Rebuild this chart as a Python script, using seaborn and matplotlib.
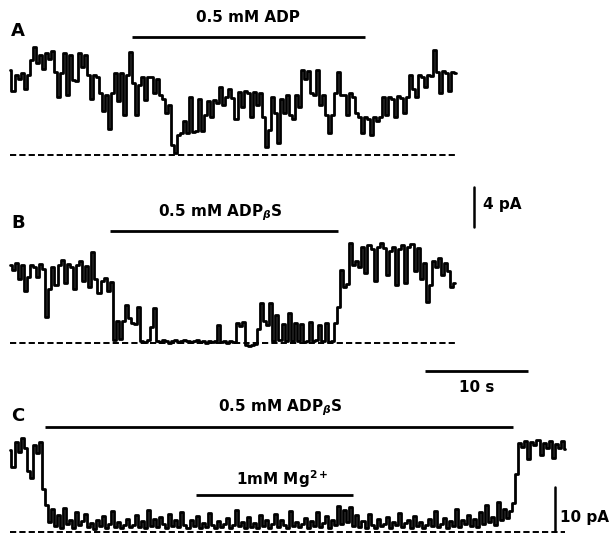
import numpy as np
import pandas as pd
import matplotlib
matplotlib.use("Agg")
import matplotlib.pyplot as plt
import seaborn as sns

# ---------------- data ----------------
# Panel A: single-channel current trace (pA), 0.5 mM ADP
trace_a_duration_s = 43.3
trace_a_pA = [
    8.5, 6.4,
    8.0, 7.6, 8.2, 6.6, 8.0,
    9.5, 10.8, 9.2,
    10.0, 8.6, 10.2, 9.6, 10.4,
    8.3, 5.8, 8.2,
    10.2, 6.0, 10.0,
    7.5, 7.4,
    10.2, 8.8, 10.0,
    8.0, 5.6, 8.0, 7.8,
    6.2, 4.4, 6.0, 2.6, 6.2,
    8.2, 5.4, 8.2, 4.0, 8.0,
    10.3,
    7.2, 4.0, 7.0,
    7.8, 5.5, 7.8,
    7.8, 6.2, 7.6, 6.0,
    5.6, 4.2, 5.0,
    1.0, 0.2,
    2.0, 2.2,
    3.4, 2.2, 5.8,
    2.3, 2.4, 5.6,
    2.4, 4.0,
    5.4, 3.8, 5.5,
    5.2, 6.8, 5.0,
    5.8, 6.6, 5.7, 3.6,
    6.3, 4.8, 6.4, 6.2, 3.8, 6.3, 5.0, 6.2,
    3.8, 0.8, 2.5,
    5.8, 4.2, 1.2, 5.6,
    4.2, 6.0, 4.0,
    3.6, 6.0, 4.8,
    8.5, 7.6, 8.4,
    6.2, 6.0, 8.5,
    5.0, 6.0,
    4.0, 2.2, 4.0,
    6.2, 8.3, 6.0,
    6.0, 4.0, 6.2, 5.8, 4.2,
    3.8, 2.2, 3.8, 3.6, 2.0, 3.8, 3.4, 3.8,
    5.8, 4.0, 5.8, 5.6, 3.8, 5.9, 5.7, 4.2, 5.8,
    8.0, 6.6, 5.8,
    8.0, 7.8, 6.8, 8.0, 7.9,
    10.5,
    8.3, 6.2, 8.4, 8.2, 6.4, 8.3, 8.2,
]

# Panel B: 0.5 mM ADPbetaS
trace_b_duration_s = 43.2
trace_b_pA = [
    7.8, 7.3, 8.0, 6.4, 7.8,
    5.2, 6.6,
    7.8, 7.6, 6.6, 7.9, 7.4,
    2.6,
    5.4,
    7.6, 5.8, 7.8, 8.3, 6.0, 7.9, 7.6, 5.4, 7.8, 8.2, 6.2, 7.7, 5.6,
    9.1,
    6.4, 5.0, 6.2, 6.5, 5.2, 6.1,
    0.3,
    2.2, 0.4,
    2.2, 3.8, 2.5,
    2.0, 1.9, 3.6,
    0.2, 0.1, 0.3,
    1.6, 3.5,
    0.2, 0.1, 0.3, 0.2, 0.0, 0.2, 0.3, 0.1, 0.2, 0.3,
    0.2, 0.1, 0.2, 0.3, 0.1, 0.2, 0.0, 0.2, 0.1, 0.2,
    1.8,
    0.1, 0.2, 0.0, 0.2, 0.1,
    2.0, 1.7, 2.1,
    -0.2, -0.3, -0.2, -0.1,
    1.4, 4.0,
    2.2, 1.8, 4.0,
    0.2, 2.8, 0.3, 1.9, 0.2, 3.0, 0.2, 2.0,
    0.2, 1.9, 0.1, 0.2, 2.1, 0.2, 0.3, 1.8, 0.2, 2.0, 0.1, 0.2, 2.0,
    3.6, 7.3,
    5.6, 5.9,
    10.0,
    7.8, 8.2, 7.6,
    9.6, 7.0, 9.8, 9.4, 6.2, 9.6, 10.0,
    9.5, 6.8, 9.2, 9.6, 5.8, 9.4,
    9.8, 6.0, 9.6, 9.9, 7.2, 9.5, 6.4,
    8.0, 4.1,
    5.8,
    8.2, 7.6, 8.5, 6.8, 8.0,
    7.2, 5.6, 6.0,
]

# Panel C: 0.5 mM ADPbetaS with 1 mM Mg2+
trace_c_duration_s = 53.9
trace_c_pA = [
    17.0, 13.5, 18.8, 16.6,
    19.6, 17.6,
    12.8, 11.2,
    18.2, 16.4, 18.8,
    9.0,
    5.6,
    2.0, 4.8, 1.2, 3.6, 0.8, 5.0, 1.6, 2.6, 0.9, 4.2, 1.4, 2.2, 3.8, 1.0,
    1.8, 0.7, 2.4, 1.2, 3.4, 0.9, 1.6, 4.4, 1.1, 2.0, 0.8, 1.5, 2.8, 1.0,
    1.4, 3.6, 1.0, 2.2, 0.8, 4.6, 1.3, 2.8, 1.0, 3.2, 1.6, 0.9, 3.8, 1.2,
    2.4, 1.0, 4.2, 1.5, 0.8, 2.6, 1.2, 3.4, 0.9, 1.8, 1.1, 4.0, 1.4, 0.8,
    2.2, 1.0, 1.6, 3.0, 0.9, 1.4, 4.6, 1.2, 2.0, 0.8, 3.2, 1.0, 1.8, 0.9,
    3.6, 1.2, 2.4, 0.8, 1.6, 3.8, 1.0, 2.6, 1.4, 0.9, 4.4, 1.2, 2.0, 1.0,
    1.6, 3.0, 0.9, 2.2, 1.2, 4.2, 1.0, 1.8, 3.4, 0.8, 2.6, 1.4, 5.4, 1.6,
    4.6, 2.0, 5.2, 1.2, 3.6, 1.0, 2.2, 0.9, 3.8, 1.4, 0.8, 2.8, 1.2, 1.6,
    3.2, 0.9, 2.0, 1.4, 4.0, 1.0, 1.8, 2.6, 0.8, 3.4, 1.2, 2.0, 0.9, 1.5,
    2.8, 1.2, 4.4, 1.0, 1.6, 3.0, 0.9, 2.2, 1.3, 4.8, 1.0, 2.4, 1.6, 3.6,
    1.2, 2.8, 1.0, 4.2, 1.6, 5.6, 2.0, 3.2, 1.4, 6.2, 2.4, 4.8, 3.0, 4.4,
    6.0, 12.0,
    18.6, 17.8, 19.0, 15.2, 18.8, 18.2, 19.2, 16.0,
    18.6, 17.4, 19.0, 15.4, 18.4, 17.6, 19.0, 17.2,
]

# Drug application periods (s) and labels
app_labels = ["0.5 mM ADP", "0.5 mM ADP$_{\\beta}$S", "0.5 mM ADP$_{\\beta}$S",
              "1mM Mg$^{\\mathbf{2+}}$"]
app_start_s = [11.8, 9.7, 3.4, 18.1]
app_end_s = [34.5, 31.8, 48.8, 33.3]

# Scale bars
scale_current_ab_pA = 4
scale_current_c_pA = 10
scale_time_s = 10

# ---------------- figure ----------------
sns.set_theme(style="white")
plt.rcParams["font.family"] = ["DejaVu Sans"]
plt.rcParams["font.weight"] = "bold"
plt.rcParams["text.color"] = "black"

W, H = 615, 533
fig = plt.figure(figsize=(W / 100, H / 100), dpi=100)
fig.patch.set_facecolor("white")

xlim = (-0.97, 58.74)
axA = fig.add_axes([0, 363 / H, 1, 170 / H])
axB = fig.add_axes([0, 173 / H, 1, 190 / H])
axC = fig.add_axes([0, 0, 1, 173 / H])
axA.set_ylim(-1.5, 15.5)
axB.set_ylim(-1.7, 17.3)
axC.set_ylim(-0.21, 35.83)

traces = [
    (axA, trace_a_pA, trace_a_duration_s),
    (axB, trace_b_pA, trace_b_duration_s),
    (axC, trace_c_pA, trace_c_duration_s),
]
for ax, vals, dur in traces:
    df = pd.DataFrame({"t": np.linspace(0, dur, len(vals)), "pA": vals})
    sns.lineplot(data=df, x="t", y="pA", ax=ax, color="black", lw=2.0,
                 estimator=None, sort=False, legend=False, drawstyle="steps-mid")
    ax.hlines(0, 0, dur, colors="black", lw=1.4, linestyles=(0, (3.2, 1.6)))
    ax.set_xlim(*xlim)
    ax.axis("off")

bar_kw = dict(color="black", lw=2.0, solid_capstyle="butt")
fs_lab = 11
txt_kw = dict(fontsize=fs_lab, fontweight="bold", color="black")
let_kw = dict(fontsize=13, fontweight="bold", color="black")
# A
axA.plot([app_start_s[0], app_end_s[0]], [11.8, 11.8], **bar_kw)
axA.text((app_start_s[0] + app_end_s[0]) / 2, 13.7, app_labels[0], ha="center",
         va="center", **txt_kw)
axA.text(0.1, 12.4, "A", ha="left", va="center", **let_kw)
# B
axB.plot([app_start_s[1], app_end_s[1]], [11.2, 11.2], **bar_kw)
axB.text(20.4, 13.0, app_labels[1], ha="center", va="center", **txt_kw)
axB.text(0.1, 12.0, "B", ha="left", va="center", **let_kw)
axB.plot([45.05, 45.05], [11.6, 11.6 + scale_current_ab_pA], color="black", lw=1.8)
axB.text(45.9, 13.9, f"{scale_current_ab_pA} pA", ha="left", va="center", **txt_kw)
# C
axC.plot([app_start_s[2], app_end_s[2]], [21.9, 21.9], **bar_kw)
axC.text(26.2, 25.8, app_labels[2], ha="center", va="center", **txt_kw)
axC.plot([app_start_s[3], app_end_s[3]], [7.8, 7.8], **bar_kw)
axC.text(26.4, 11.0, app_labels[3], ha="center", va="center", **txt_kw)
axC.text(0.1, 24.2, "C", ha="left", va="center", **let_kw)
axC.plot([40.3, 40.3 + scale_time_s], [33.5, 33.5], color="black", lw=2.0,
         solid_capstyle="butt")
axC.text(40.3 + scale_time_s / 2, 30.2, f"{scale_time_s} s", ha="center",
         va="center", **txt_kw)
axC.plot([52.9, 52.9], [-0.6, -0.6 + scale_current_c_pA], color="black", lw=1.8)
axC.text(53.4, 3.1, f"{scale_current_c_pA} pA", ha="left", va="center", **txt_kw)

fig.savefig("out.png", dpi=100, facecolor="white")
